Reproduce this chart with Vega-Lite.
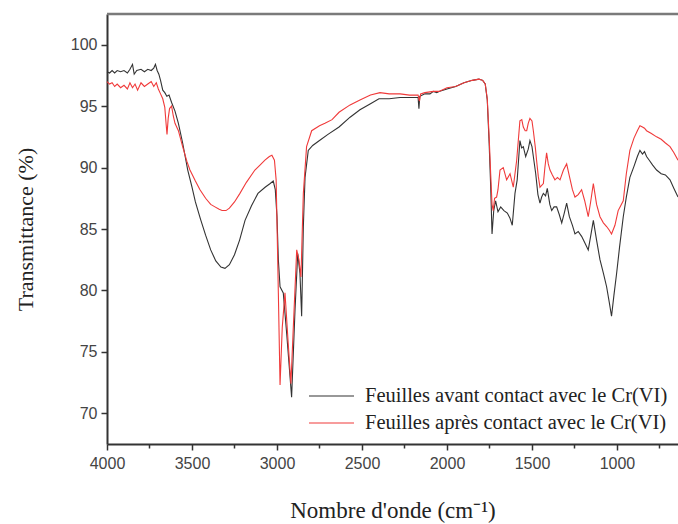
{
  "$schema": "https://vega.github.io/schema/vega-lite/v6.json",
  "width": 571,
  "height": 430,
  "autosize": {"type": "none"},
  "padding": {"left": 107, "top": 14, "right": 0, "bottom": 80},
  "background": "white",
  "config": {"view": {"stroke": null}, "font": "Liberation Sans"},
  "datasets": {
    "avant": [
      {"wn":4000,"T":97.8},{"wn":3985,"T":97.7},{"wn":3970,"T":97.9},{"wn":3955,"T":97.7},{"wn":3940,"T":97.9},
      {"wn":3920,"T":97.8},{"wn":3900,"T":97.9},{"wn":3880,"T":97.7},{"wn":3865,"T":98.0},{"wn":3850,"T":98.4},
      {"wn":3840,"T":97.6},{"wn":3825,"T":97.9},{"wn":3800,"T":98.0},{"wn":3780,"T":97.8},{"wn":3760,"T":98.0},
      {"wn":3740,"T":97.9},{"wn":3725,"T":98.1},{"wn":3715,"T":98.4},{"wn":3705,"T":97.9},{"wn":3695,"T":97.6},
      {"wn":3685,"T":97.1},{"wn":3672,"T":96.3},{"wn":3660,"T":96.1},{"wn":3648,"T":95.8},{"wn":3635,"T":95.9},
      {"wn":3620,"T":95.3},{"wn":3600,"T":94.6},{"wn":3580,"T":93.6},{"wn":3555,"T":92.0},{"wn":3525,"T":89.8},
      {"wn":3500,"T":88.4},{"wn":3480,"T":87.2},{"wn":3450,"T":85.8},{"wn":3420,"T":84.5},{"wn":3390,"T":83.3},
      {"wn":3360,"T":82.4},{"wn":3330,"T":81.9},{"wn":3306,"T":81.8},{"wn":3280,"T":82.1},{"wn":3250,"T":82.9},
      {"wn":3220,"T":84.1},{"wn":3188,"T":85.7},{"wn":3150,"T":86.9},{"wn":3112,"T":87.9},{"wn":3070,"T":88.4},
      {"wn":3040,"T":88.7},{"wn":3022,"T":88.9},{"wn":3010,"T":88.2},{"wn":3000,"T":86.0},{"wn":2992,"T":82.5},
      {"wn":2982,"T":80.3},{"wn":2963,"T":79.8},{"wn":2943,"T":76.5},{"wn":2914,"T":71.3},{"wn":2894,"T":78.4},
      {"wn":2878,"T":83.0},{"wn":2865,"T":81.4},{"wn":2855,"T":77.9},{"wn":2845,"T":85.2},{"wn":2835,"T":89.2},
      {"wn":2816,"T":91.4},{"wn":2790,"T":91.8},{"wn":2750,"T":92.2},{"wn":2700,"T":92.7},{"wn":2635,"T":93.3},
      {"wn":2570,"T":94.1},{"wn":2512,"T":94.7},{"wn":2450,"T":95.2},{"wn":2400,"T":95.6},{"wn":2340,"T":95.6},
      {"wn":2276,"T":95.7},{"wn":2220,"T":95.7},{"wn":2170,"T":95.7},{"wn":2165,"T":94.8},{"wn":2160,"T":95.8},
      {"wn":2130,"T":96.0},{"wn":2100,"T":96.0},{"wn":2080,"T":96.2},{"wn":2060,"T":96.1},{"wn":2047,"T":96.2},
      {"wn":2000,"T":96.4},{"wn":1949,"T":96.6},{"wn":1900,"T":96.9},{"wn":1851,"T":97.1},{"wn":1812,"T":97.2},
      {"wn":1790,"T":97.1},{"wn":1775,"T":96.8},{"wn":1763,"T":95.5},{"wn":1752,"T":92.0},{"wn":1743,"T":88.5},
      {"wn":1735,"T":84.6},{"wn":1725,"T":86.5},{"wn":1714,"T":87.3},{"wn":1700,"T":86.4},{"wn":1684,"T":86.8},
      {"wn":1665,"T":86.5},{"wn":1645,"T":86.3},{"wn":1630,"T":85.9},{"wn":1616,"T":85.3},{"wn":1600,"T":87.9},
      {"wn":1587,"T":89.0},{"wn":1571,"T":92.2},{"wn":1561,"T":91.6},{"wn":1551,"T":91.7},{"wn":1537,"T":90.9},
      {"wn":1522,"T":91.5},{"wn":1512,"T":92.2},{"wn":1500,"T":91.7},{"wn":1492,"T":90.9},{"wn":1478,"T":89.5},
      {"wn":1465,"T":87.8},{"wn":1453,"T":87.1},{"wn":1443,"T":87.6},{"wn":1433,"T":87.9},{"wn":1420,"T":87.7},
      {"wn":1410,"T":88.3},{"wn":1395,"T":87.0},{"wn":1384,"T":86.5},{"wn":1370,"T":86.8},{"wn":1355,"T":86.8},
      {"wn":1340,"T":86.2},{"wn":1325,"T":85.5},{"wn":1310,"T":86.3},{"wn":1296,"T":87.1},{"wn":1280,"T":86.0},
      {"wn":1262,"T":85.3},{"wn":1247,"T":84.6},{"wn":1228,"T":84.8},{"wn":1208,"T":84.4},{"wn":1190,"T":83.9},
      {"wn":1169,"T":83.3},{"wn":1155,"T":84.4},{"wn":1139,"T":85.7},{"wn":1120,"T":84.1},{"wn":1100,"T":82.5},
      {"wn":1080,"T":81.4},{"wn":1061,"T":80.3},{"wn":1045,"T":79.0},{"wn":1032,"T":77.9},{"wn":1018,"T":79.6},
      {"wn":1002,"T":81.4},{"wn":985,"T":83.5},{"wn":963,"T":86.0},{"wn":945,"T":87.6},{"wn":924,"T":89.2},
      {"wn":900,"T":90.1},{"wn":880,"T":90.9},{"wn":865,"T":91.4},{"wn":850,"T":91.1},{"wn":838,"T":91.3},
      {"wn":826,"T":90.9},{"wn":810,"T":90.6},{"wn":790,"T":90.2},{"wn":767,"T":89.8},{"wn":740,"T":89.5},
      {"wn":715,"T":89.4},{"wn":688,"T":89.0},{"wn":665,"T":88.3},{"wn":641,"T":87.6}
    ],
    "apres": [
      {"wn":4000,"T":97.0},{"wn":3985,"T":96.8},{"wn":3970,"T":96.9},{"wn":3955,"T":96.6},{"wn":3940,"T":96.8},
      {"wn":3920,"T":96.5},{"wn":3900,"T":96.7},{"wn":3880,"T":96.4},{"wn":3865,"T":96.9},{"wn":3850,"T":96.5},
      {"wn":3835,"T":96.8},{"wn":3820,"T":96.3},{"wn":3800,"T":96.9},{"wn":3780,"T":96.6},{"wn":3760,"T":96.8},
      {"wn":3740,"T":97.0},{"wn":3725,"T":96.6},{"wn":3710,"T":96.9},{"wn":3698,"T":96.4},{"wn":3685,"T":96.0},
      {"wn":3672,"T":95.6},{"wn":3660,"T":94.9},{"wn":3652,"T":93.5},{"wn":3647,"T":92.7},{"wn":3640,"T":94.0},
      {"wn":3632,"T":94.8},{"wn":3620,"T":95.0},{"wn":3610,"T":94.2},{"wn":3600,"T":93.6},{"wn":3580,"T":93.0},
      {"wn":3555,"T":91.7},{"wn":3530,"T":90.5},{"wn":3512,"T":89.8},{"wn":3480,"T":88.9},{"wn":3453,"T":88.2},
      {"wn":3420,"T":87.5},{"wn":3390,"T":87.0},{"wn":3365,"T":86.8},{"wn":3340,"T":86.6},{"wn":3323,"T":86.5},
      {"wn":3300,"T":86.5},{"wn":3280,"T":86.7},{"wn":3250,"T":87.2},{"wn":3218,"T":87.9},{"wn":3180,"T":88.8},
      {"wn":3130,"T":89.8},{"wn":3100,"T":90.2},{"wn":3071,"T":90.6},{"wn":3045,"T":90.9},{"wn":3030,"T":91.0},
      {"wn":3015,"T":90.6},{"wn":3005,"T":89.0},{"wn":2992,"T":79.8},{"wn":2982,"T":72.3},{"wn":2969,"T":77.0},
      {"wn":2953,"T":79.8},{"wn":2934,"T":75.7},{"wn":2918,"T":72.4},{"wn":2904,"T":77.0},{"wn":2884,"T":83.3},
      {"wn":2871,"T":82.5},{"wn":2859,"T":81.1},{"wn":2845,"T":87.9},{"wn":2826,"T":91.7},{"wn":2796,"T":93.0},
      {"wn":2750,"T":93.4},{"wn":2718,"T":93.6},{"wn":2676,"T":93.9},{"wn":2635,"T":94.5},{"wn":2570,"T":95.1},
      {"wn":2512,"T":95.5},{"wn":2450,"T":95.9},{"wn":2394,"T":96.1},{"wn":2340,"T":96.0},{"wn":2276,"T":96.0},
      {"wn":2220,"T":95.9},{"wn":2170,"T":95.9},{"wn":2162,"T":95.4},{"wn":2155,"T":96.0},{"wn":2130,"T":96.1},
      {"wn":2080,"T":96.2},{"wn":2047,"T":96.2},{"wn":2000,"T":96.5},{"wn":1949,"T":96.6},{"wn":1900,"T":96.9},
      {"wn":1851,"T":97.1},{"wn":1812,"T":97.2},{"wn":1790,"T":97.1},{"wn":1775,"T":96.8},{"wn":1763,"T":95.6},
      {"wn":1752,"T":92.5},{"wn":1743,"T":89.5},{"wn":1735,"T":87.0},{"wn":1728,"T":86.5},{"wn":1720,"T":87.5},
      {"wn":1708,"T":87.6},{"wn":1700,"T":88.2},{"wn":1688,"T":89.8},{"wn":1669,"T":90.0},{"wn":1649,"T":89.0},
      {"wn":1629,"T":89.5},{"wn":1610,"T":88.4},{"wn":1590,"T":90.6},{"wn":1571,"T":93.8},{"wn":1560,"T":93.9},
      {"wn":1551,"T":93.3},{"wn":1540,"T":93.0},{"wn":1531,"T":93.0},{"wn":1522,"T":93.6},{"wn":1512,"T":94.0},
      {"wn":1500,"T":93.8},{"wn":1492,"T":93.0},{"wn":1480,"T":91.6},{"wn":1473,"T":90.6},{"wn":1463,"T":89.3},
      {"wn":1453,"T":88.4},{"wn":1433,"T":88.7},{"wn":1424,"T":90.0},{"wn":1414,"T":91.2},{"wn":1404,"T":90.3},
      {"wn":1394,"T":89.8},{"wn":1380,"T":89.4},{"wn":1365,"T":89.0},{"wn":1350,"T":89.2},{"wn":1335,"T":89.0},
      {"wn":1315,"T":89.8},{"wn":1296,"T":90.3},{"wn":1280,"T":89.3},{"wn":1262,"T":88.2},{"wn":1247,"T":87.6},
      {"wn":1228,"T":87.8},{"wn":1208,"T":88.2},{"wn":1190,"T":87.3},{"wn":1169,"T":86.0},{"wn":1155,"T":87.2},
      {"wn":1139,"T":88.7},{"wn":1120,"T":87.0},{"wn":1100,"T":86.0},{"wn":1080,"T":85.5},{"wn":1061,"T":85.2},
      {"wn":1045,"T":84.9},{"wn":1032,"T":84.6},{"wn":1012,"T":85.3},{"wn":993,"T":86.5},{"wn":978,"T":86.9},
      {"wn":963,"T":87.3},{"wn":945,"T":89.5},{"wn":924,"T":91.4},{"wn":900,"T":92.4},{"wn":880,"T":93.0},
      {"wn":865,"T":93.4},{"wn":850,"T":93.3},{"wn":838,"T":93.2},{"wn":826,"T":93.0},{"wn":800,"T":92.8},
      {"wn":767,"T":92.5},{"wn":740,"T":92.3},{"wn":715,"T":92.0},{"wn":688,"T":91.7},{"wn":665,"T":91.2},
      {"wn":641,"T":90.6}
    ]
  },
  "layer": [
    {
      "data": {"name": "avant"},
      "mark": {"type": "line", "strokeWidth": 1.1},
      "encoding": {
        "x": {
          "field": "wn", "type": "quantitative",
          "scale": {"domain": [641, 4000], "reverse": true, "nice": false, "zero": false},
          "axis": {
            "title": "Nombre d'onde (cm⁻¹)",
            "titleFont": "Liberation Serif", "titleFontSize": 23, "titleFontWeight": "normal", "titleColor": "#222222",
            "titlePadding": 28,
            "values": [4000, 3750, 3500, 3250, 3000, 2750, 2500, 2250, 2000, 1750, 1500, 1250, 1000, 750],
            "labelExpr": "datum.value % 500 === 0 ? datum.label : ''",
            "format": "d",
            "labelFont": "Liberation Sans", "labelFontSize": 16, "labelColor": "#444444",
            "labelPadding": 5, "labelOverlap": false, "labelFlush": false,
            "tickSize": {"condition": {"test": "datum.value % 500 === 0", "value": 6}, "value": 4},
            "tickColor": "#333333", "tickWidth": 1.5,
            "domainColor": "#333333", "domainWidth": 2,
            "grid": false
          }
        },
        "y": {
          "field": "T", "type": "quantitative",
          "scale": {"domain": [67.5, 102.5], "nice": false, "zero": false},
          "axis": {
            "title": "Transmittance (%)",
            "titleFont": "Liberation Serif", "titleFontSize": 22, "titleFontWeight": "normal", "titleColor": "#222222",
            "titlePadding": 33,
            "values": [70, 72.5, 75, 77.5, 80, 82.5, 85, 87.5, 90, 92.5, 95, 97.5, 100],
            "labelExpr": "datum.value % 5 === 0 ? datum.label : ''",
            "labelFont": "Liberation Sans", "labelFontSize": 16, "labelColor": "#444444",
            "labelPadding": 4, "labelOverlap": false, "labelFlush": false,
            "tickSize": {"condition": {"test": "datum.value % 5 === 0", "value": 6}, "value": 4},
            "tickColor": "#333333", "tickWidth": 1.5,
            "domainColor": "#333333", "domainWidth": 2,
            "grid": false
          }
        },
        "color": {
          "datum": "Feuilles avant contact avec le Cr(VI)",
          "type": "nominal",
          "scale": {
            "domain": ["Feuilles avant contact avec le Cr(VI)", "Feuilles après contact avec le Cr(VI)"],
            "range": ["#333333", "#f03a3a"]
          },
          "legend": {
            "title": null,
            "orient": "bottom-right",
            "offset": 10,
            "padding": 0,
            "symbolType": "stroke",
            "symbolSize": 2025,
            "symbolStrokeWidth": 1.2,
            "clipHeight": 20,
            "rowPadding": 6,
            "labelOffset": 10,
            "labelFont": "Liberation Serif",
            "labelFontSize": 20.5,
            "labelColor": "#222222",
            "labelLimit": 400
          }
        }
      }
    },
    {
      "data": {"name": "apres"},
      "mark": {"type": "line", "strokeWidth": 1.1},
      "encoding": {
        "x": {"field": "wn", "type": "quantitative"},
        "y": {"field": "T", "type": "quantitative"},
        "color": {"datum": "Feuilles après contact avec le Cr(VI)", "type": "nominal"}
      }
    },
    {
      "data": {"values": [{"top": 102.5}]},
      "mark": {"type": "rule", "color": "#7a7a7a", "strokeWidth": 2.5},
      "encoding": {"y": {"field": "top", "type": "quantitative"}}
    }
  ]
}
